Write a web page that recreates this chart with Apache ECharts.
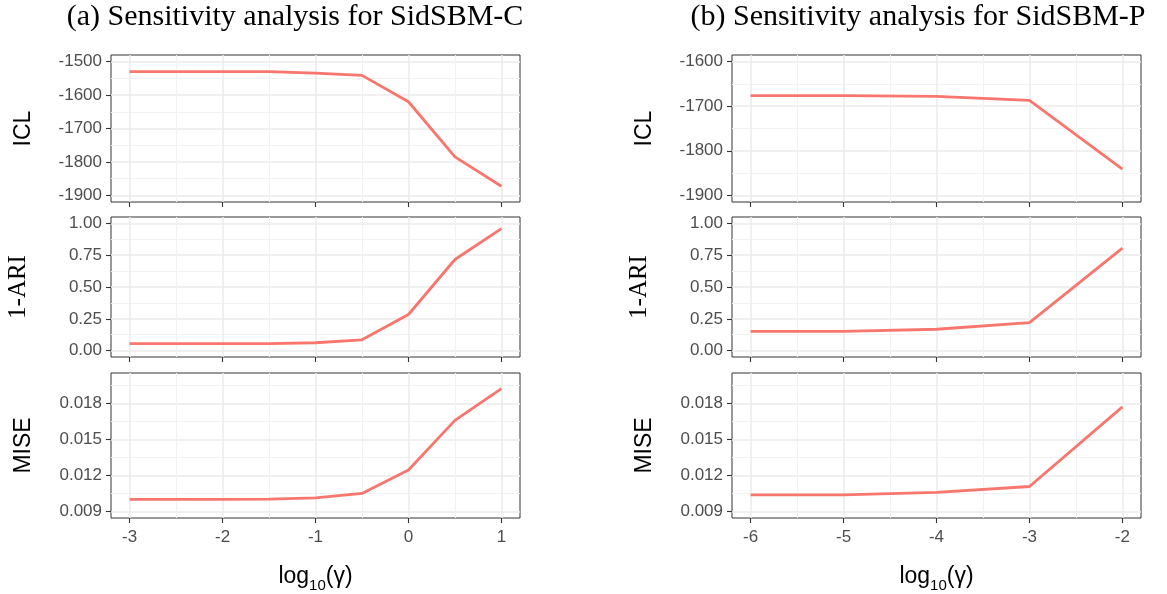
<!DOCTYPE html>
<html><head><meta charset="utf-8">
<script src="https://cdn.jsdelivr.net/npm/echarts@6/dist/echarts.min.js"></script>
<style>html,body{margin:0;padding:0;background:#fff}#c{width:1167px;height:594px}</style>
</head><body><div id="c"></div>
<script>
// ---- data ----
const gammaC = [-3, -2.5, -2, -1.5, -1, -0.5, 0, 0.5, 1];
const iclC   = [-1530, -1530, -1530, -1530, -1534, -1541, -1620, -1785, -1873];
const ariC   = [0.055, 0.055, 0.055, 0.055, 0.062, 0.085, 0.284, 0.716, 0.959];
const miseC  = [0.0100, 0.0100, 0.0100, 0.01002, 0.01013, 0.0105, 0.01245, 0.0166, 0.01925];

const gammaP = [-6, -5, -4, -3, -2];
const iclP   = [-1676, -1676, -1678, -1687, -1841];
const ariP   = [0.152, 0.152, 0.168, 0.220, 0.806];
const miseP  = [0.01038, 0.01038, 0.01058, 0.01108, 0.01772];

const xTicksC = [-3, -2, -1, 0, 1];
const xTicksP = [-6, -5, -4, -3, -2];
const iclTicksC = [-1900, -1800, -1700, -1600, -1500];
const iclTicksP = [-1900, -1800, -1700, -1600];
const ariTicks = [0, 0.25, 0.5, 0.75, 1];
const miseTicks = [0.009, 0.012, 0.015, 0.018];

const titles = ['(a) Sensitivity analysis for SidSBM-C', '(b) Sensitivity analysis for SidSBM-P'];
const rowNames = ['ICL', '1-ARI', 'MISE'];

// ---- helpers ----
function expand(lo, hi) { const d = (hi - lo) * 0.05; return [lo - d, hi + d]; }
function mids(t) { const m = []; const s = t[1] - t[0];
  for (let i = -1; i < t.length; i++) m.push(+(t[0] + s * (i + 0.5)).toFixed(6)); return m; }

const cols = [
  { left: 111, x: gammaC, xt: xTicksC, rows: [[iclC, iclTicksC, [-1900, -1500]], [ariC, ariTicks, [0, 1]], [miseC, miseTicks, [0.009, 0.020]]] },
  { left: 732, x: gammaP, xt: xTicksP, rows: [[iclP, iclTicksP, [-1900, -1600]], [ariP, ariTicks, [0, 1]], [miseP, miseTicks, [0.009, 0.020]]] }
];
const rowGeom = [{ top: 55, height: 147 }, { top: 217, height: 140 }, { top: 373, height: 146 }];
const fmt = [v => String(v), v => v.toFixed(2), v => v.toFixed(3)];
const nameFont = [
  { fontFamily: 'Liberation Sans', fontSize: 23, color: '#000' },
  { fontFamily: 'Liberation Serif', fontSize: 25, color: '#000' },
  { fontFamily: 'Liberation Sans', fontSize: 23, color: '#000' }
];
const nameGap = [76, 80, 76];

const grid = [], xAxis = [], yAxis = [], series = [];
const GRIDC = '#EBEBEB', MINORC = '#F2F2F2';
cols.forEach((c, ci) => {
  const xr = expand(c.x[0], c.x[c.x.length - 1]);
  c.rows.forEach((r, ri) => {
    const gi = grid.length;
    grid.push({ left: c.left, width: 409, top: rowGeom[ri].top, height: rowGeom[ri].height,
      show: true, borderColor: '#333', borderWidth: 1, backgroundColor: '#fff', containLabel: false });
    const yr = expand(r[2][0], r[2][1]);
    const bottom = ri === 2;
    // minor axes
    xAxis.push({ type: 'value', gridIndex: gi, min: xr[0], max: xr[1], position: 'bottom',
      axisLine: { show: false, onZero: false }, axisLabel: { show: false },
      axisTick: { show: false, customValues: mids(c.xt) },
      splitLine: { show: true, lineStyle: { color: MINORC, width: 1 } } });
    yAxis.push({ type: 'value', gridIndex: gi, min: yr[0], max: yr[1], position: 'left',
      axisLine: { show: false, onZero: false }, axisLabel: { show: false },
      axisTick: { show: false, customValues: mids(r[1]) },
      splitLine: { show: true, lineStyle: { color: MINORC, width: 1 } } });
    // major axes
    xAxis.push({ type: 'value', gridIndex: gi, min: xr[0], max: xr[1], position: 'bottom',
      axisLine: { show: false, onZero: false },
      axisTick: { show: true, length: 5, customValues: c.xt, lineStyle: { color: '#333', width: 1.1 } },
      axisLabel: { show: bottom, customValues: c.xt, color: '#4D4D4D', fontSize: 17,
        fontFamily: 'Liberation Sans', margin: 11, formatter: v => String(v) },
      splitLine: { show: true, lineStyle: { color: GRIDC, width: 1.5 } },
      name: bottom ? '{a|log}{b|10}{a|(γ)}' : '', nameLocation: 'middle', nameGap: 42,
      nameTextStyle: { rich: {
        a: { fontFamily: 'Liberation Sans', fontSize: 23, color: '#000', lineHeight: 28, verticalAlign: 'bottom' },
        b: { fontFamily: 'Liberation Sans', fontSize: 15, color: '#000', lineHeight: 28, verticalAlign: 'bottom', padding: [0, 0, -5, 0] } } } });
    yAxis.push({ type: 'value', gridIndex: gi, min: yr[0], max: yr[1], position: 'left',
      axisLine: { show: false, onZero: false },
      axisTick: { show: true, length: 5, customValues: r[1], lineStyle: { color: '#333', width: 1.1 } },
      axisLabel: { show: true, customValues: r[1], color: '#4D4D4D', fontSize: 17,
        fontFamily: 'Liberation Sans', margin: 9, formatter: fmt[ri] },
      splitLine: { show: true, lineStyle: { color: GRIDC, width: 1.5 } },
      name: rowNames[ri], nameLocation: 'middle', nameRotate: 90, nameGap: nameGap[ri],
      nameTextStyle: nameFont[ri] });
    series.push({ type: 'line', xAxisIndex: xAxis.length - 1, yAxisIndex: yAxis.length - 1,
      data: c.x.map((v, k) => [v, r[0][k]]), showSymbol: false, symbol: 'none',
      lineStyle: { color: '#F8766D', width: 2.8 }, z: 5, animation: false });
  });
});

const chart = echarts.init(document.getElementById('c'), null, { renderer: 'canvas' });
chart.setOption({
  animation: false,
  backgroundColor: '#fff',
  grid, xAxis, yAxis, series,
  graphic: titles.map((t, i) => ({ type: 'text', x: i === 0 ? 295 : 918, y: 17,
    style: { text: t, font: '30px "Liberation Serif"', fill: '#000', textAlign: 'center', textVerticalAlign: 'middle' } }))
});
</script>
</body></html>
